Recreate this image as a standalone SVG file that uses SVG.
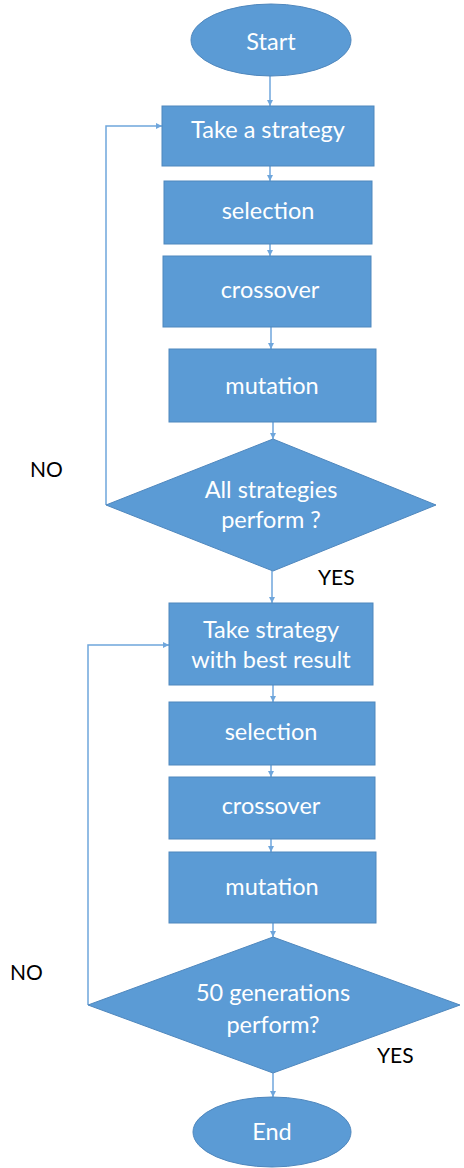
<svg xmlns="http://www.w3.org/2000/svg" width="464" height="1168" viewBox="0 0 464 1168">
  <style>
    .node { fill: #5b9bd5; stroke: #4f87bd; stroke-width: 1; }
    .txt { font-family: Lato, "Liberation Sans", sans-serif; font-size: 23.5px; fill: #ffffff; text-anchor: middle; }
    .lbl { font-family: Lato, "Liberation Sans", sans-serif; font-size: 21px; fill: #000000; }
    .conn { fill: none; stroke: #6fa6dc; stroke-width: 1.5; }
  </style>
  <defs>
    <marker id="arrow" viewBox="0 0 10 10" refX="10" refY="5" markerWidth="6" markerHeight="6" orient="auto" markerUnits="userSpaceOnUse">
      <path d="M0,0 L10,5 L0,10 z" fill="#6fa6dc"/>
    </marker>
  </defs>
  <rect width="464" height="1168" fill="#ffffff"/>

  <g id="connectors">
    <path class="conn" d="M270,76 V106" marker-end="url(#arrow)"/>
    <path class="conn" d="M270,166 V181" marker-end="url(#arrow)"/>
    <path class="conn" d="M270,244 V256" marker-end="url(#arrow)"/>
    <path class="conn" d="M271,327 V349" marker-end="url(#arrow)"/>
    <path class="conn" d="M273,422 V439" marker-end="url(#arrow)"/>
    <path class="conn" d="M106,505 V126 H162" marker-end="url(#arrow)"/>
    <path class="conn" d="M272,571 V603" marker-end="url(#arrow)"/>
    <path class="conn" d="M273,685 V702" marker-end="url(#arrow)"/>
    <path class="conn" d="M271,765 V777" marker-end="url(#arrow)"/>
    <path class="conn" d="M271,839 V852" marker-end="url(#arrow)"/>
    <path class="conn" d="M273,923 V937" marker-end="url(#arrow)"/>
    <path class="conn" d="M88,1005 V645 H169" marker-end="url(#arrow)"/>
    <path class="conn" d="M273,1073 V1097" marker-end="url(#arrow)"/>
  </g>

  <g id="start">
    <ellipse class="node" cx="271" cy="40" rx="80" ry="36"/>
    <text class="txt" x="271" y="50">Start</text>
  </g>
  <g id="take-strategy">
    <rect class="node" x="162" y="106" width="212" height="60"/>
    <text class="txt" x="268" y="138">Take a strategy</text>
  </g>
  <g id="selection-1">
    <rect class="node" x="164" y="181" width="208" height="63"/>
    <text class="txt" x="268" y="219">selection</text>
  </g>
  <g id="crossover-1">
    <rect class="node" x="163" y="256" width="208" height="71"/>
    <text class="txt" x="270" y="298">crossover</text>
  </g>
  <g id="mutation-1">
    <rect class="node" x="169" y="349" width="207" height="73"/>
    <text class="txt" x="272" y="394">mutation</text>
  </g>
  <g id="all-strategies">
    <polygon class="node" points="273,439 436,505 273,571 106,505"/>
    <text class="txt" x="271" y="498">All strategies</text>
    <text class="txt" x="271" y="528">perform ?</text>
  </g>
  <g id="take-best">
    <rect class="node" x="169" y="603" width="204" height="82"/>
    <text class="txt" x="271" y="638">Take strategy</text>
    <text class="txt" x="271" y="668">with best result</text>
  </g>
  <g id="selection-2">
    <rect class="node" x="169" y="702" width="206" height="63"/>
    <text class="txt" x="271" y="740">selection</text>
  </g>
  <g id="crossover-2">
    <rect class="node" x="169" y="777" width="206" height="62"/>
    <text class="txt" x="271" y="814">crossover</text>
  </g>
  <g id="mutation-2">
    <rect class="node" x="169" y="852" width="207" height="71"/>
    <text class="txt" x="272" y="895">mutation</text>
  </g>
  <g id="generations">
    <polygon class="node" points="273,937 460,1005 273,1073 88,1005"/>
    <text class="txt" x="273" y="1001">50 generations</text>
    <text class="txt" x="273" y="1033">perform?</text>
  </g>
  <g id="end">
    <ellipse class="node" cx="272" cy="1132" rx="79" ry="35"/>
    <text class="txt" x="272" y="1140">End</text>
  </g>

  <g id="labels">
    <text class="lbl" x="30" y="477">NO</text>
    <text class="lbl" x="318" y="585">YES</text>
    <text class="lbl" x="10" y="980">NO</text>
    <text class="lbl" x="377" y="1063">YES</text>
  </g>
</svg>
